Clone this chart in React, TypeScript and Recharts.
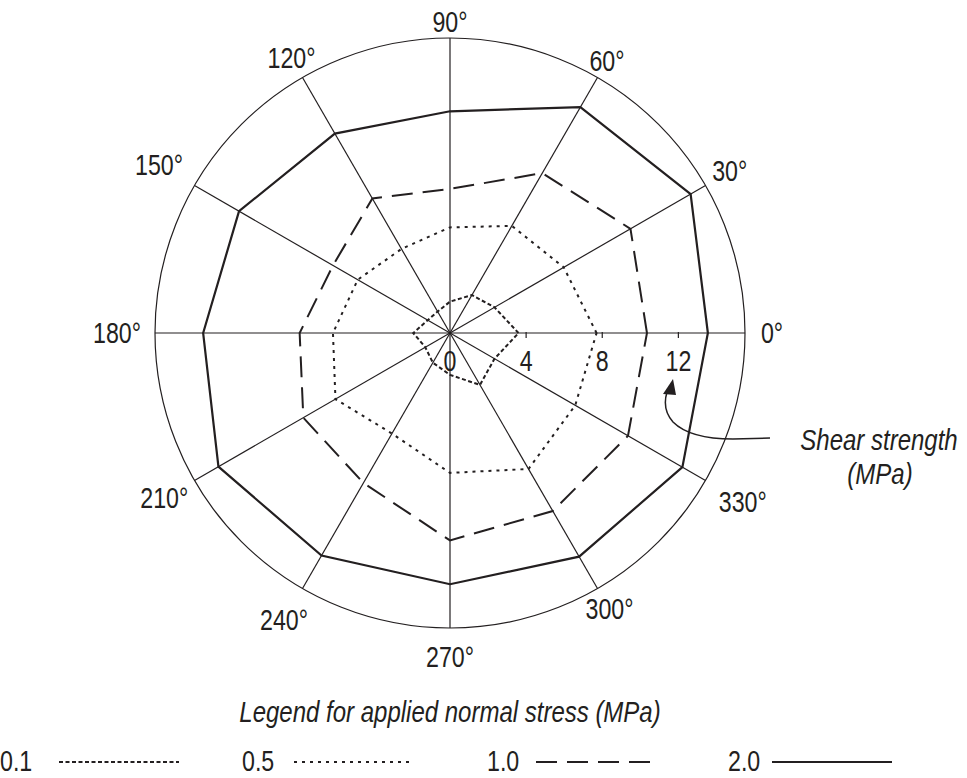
import {
  Customized,
  Legend,
  PolarAngleAxis,
  PolarGrid,
  PolarRadiusAxis,
  Radar,
  RadarChart,
} from "recharts";

// shear strength (MPa) by direction, one list per applied normal stress
const angles = ["0°", "30°", "60°", "90°", "120°", "150°", "180°", "210°", "240°", "270°", "300°", "330°"];
const stress01 = [3.6, 2.7, 2.3, 1.65, 1.3, 1.35, 1.93, 1.5, 1.8, 2.2, 3.15, 2.7];
const stress05 = [7.7, 6.9, 6.5, 5.55, 5.1, 5.6, 6.15, 6.95, 6.1, 7.35, 8.25, 7.6];
const stress10 = [10.35, 10.95, 9.7, 7.57, 8.16, 7.1, 7.9, 8.9, 9.1, 10.9, 10.8, 10.8];
const stress20 = [13.55, 14.6, 13.7, 11.65, 12.1, 12.8, 12.97, 14.05, 13.5, 13.2, 13.57, 14.1];
const radiusTicks = [0, 4, 8, 12];
const legendNames = ["0.1", "0.5", "1.0", "2.0"];

const data = angles.map((angle, i) => ({
  angle,
  s01: stress01[i],
  s05: stress05[i],
  s10: stress10[i],
  s20: stress20[i],
}));

const W = 967;
const H = 778;
const CX = 450;
const CY = 333;
const R = 295; // drawn outer circle
const MAX = 16; // radius axis top, slightly outside the circle
const AXIS_R = 304.5; // pixel radius of MAX, ~19 px per MPa
const INK = "#231f20";
const FONT = '"Liberation Sans", Arial, sans-serif';

const labelRadius = [322, 323, 314, 311, 317, 336, 333, 330, 332, 324, 319, 338];

const dashes: Record<string, string | undefined> = {
  "0.1": "4 2.5",
  "0.5": "3 5",
  "1.0": "21 10",
  "2.0": undefined,
};

// the original lettering is a narrow grotesque, so squeeze Liberation Sans
function NarrowText(props: any) {
  const { x, y, size = 29, italic = false, anchor = "middle", children } = props;
  return (
    <text
      transform={`translate(${x} ${y}) scale(0.8 1)`}
      textAnchor={anchor}
      dominantBaseline="central"
      fontSize={size}
      fontStyle={italic ? "italic" : "normal"}
      fontFamily={FONT}
      fill={INK}
    >
      {children}
    </text>
  );
}

function AngleTick(props: any) {
  const { payload, index } = props;
  const a = (index * 30 * Math.PI) / 180;
  const r = labelRadius[index];
  return <NarrowText x={CX + r * Math.cos(a)} y={CY - r * Math.sin(a)}>{payload.value}</NarrowText>;
}

function RadiusTick(props: any) {
  const { x, y, payload } = props;
  if (!radiusTicks.includes(payload.value)) return <g />;
  return (
    <g>
      {payload.value > 0 && <line x1={x} y1={y - 1} x2={x} y2={y + 5} stroke={INK} strokeWidth={1.2} />}
      <NarrowText x={x} y={y + 28}>{payload.value}</NarrowText>
    </g>
  );
}

// spokes stop at the drawn circle, not at the axis radius
function Spokes() {
  return (
    <g>
      {angles.map((_, i) => {
        const a = (i * 30 * Math.PI) / 180;
        return (
          <line
            key={i}
            x1={CX}
            y1={CY}
            x2={CX + R * Math.cos(a)}
            y2={CY - R * Math.sin(a)}
            stroke={INK}
            strokeWidth={1.2}
          />
        );
      })}
    </g>
  );
}

function Annotation() {
  return (
    <g>
      <path
        d="M770,438 L733,439 C705,439 685,434 673,422 C665,413 664,402 667,392"
        fill="none"
        stroke={INK}
        strokeWidth={1.5}
      />
      <polygon points="673,379 663,394 676,395" fill={INK} />
      <NarrowText x={879} y={440} size={30} italic>
        Shear strength
      </NarrowText>
      <NarrowText x={880} y={474} size={30} italic>
        (MPa)
      </NarrowText>
    </g>
  );
}

const legendLabelX = [0, 242, 487, 728];
const legendLineX = [59, 294, 536, 772];
const legendLineW = 120;

function LegendContent() {
  return (
    <svg width={W} height={88} style={{ display: "block" }}>
      <NarrowText x={450} y={22} size={30} italic>
        Legend for applied normal stress (MPa)
      </NarrowText>
      {legendNames.map((name, i) => (
        <g key={name}>
          <NarrowText x={legendLabelX[i]} y={71} anchor="start">
            {name}
          </NarrowText>
          <line
            x1={legendLineX[i]}
            x2={legendLineX[i] + legendLineW}
            y1={72}
            y2={72}
            stroke={INK}
            strokeWidth={2}
            strokeDasharray={dashes[name]}
          />
        </g>
      ))}
    </svg>
  );
}

export default function App() {
  return (
    <div style={{ position: "absolute", left: 0, top: 0, width: W, height: H, background: "#fff" }}>
      <RadarChart
        width={W}
        height={H}
        data={data}
        cx={CX}
        cy={CY}
        outerRadius={AXIS_R}
        startAngle={-30}
        endAngle={330}
        margin={{ top: 0, right: 0, bottom: 0, left: 0 }}
      >
        <PolarGrid gridType="circle" radialLines={false} polarRadius={[R]} stroke={INK} strokeWidth={1.2} />
        <Customized component={Spokes} />
        <PolarAngleAxis dataKey="angle" tick={AngleTick} tickLine={false} axisLine={false} />
        <PolarRadiusAxis
          angle={0}
          type="number"
          domain={[0, MAX]}
          ticks={radiusTicks}
          allowDataOverflow
          axisLine={false}
          tick={RadiusTick}
        />
        <Radar name="0.1" dataKey="s01" stroke={INK} strokeWidth={2} strokeDasharray={dashes["0.1"]} fill="none" fillOpacity={0} isAnimationActive={false} />
        <Radar name="0.5" dataKey="s05" stroke={INK} strokeWidth={2} strokeDasharray={dashes["0.5"]} fill="none" fillOpacity={0} isAnimationActive={false} />
        <Radar name="1.0" dataKey="s10" stroke={INK} strokeWidth={2} strokeDasharray={dashes["1.0"]} fill="none" fillOpacity={0} isAnimationActive={false} />
        <Radar name="2.0" dataKey="s20" stroke={INK} strokeWidth={2.2} fill="none" fillOpacity={0} isAnimationActive={false} />
        <Customized component={Annotation} />
        <Legend
          verticalAlign="bottom"
          content={LegendContent}
          wrapperStyle={{ position: "absolute", left: 0, top: 690, width: W, height: 88 }}
        />
      </RadarChart>
    </div>
  );
}
